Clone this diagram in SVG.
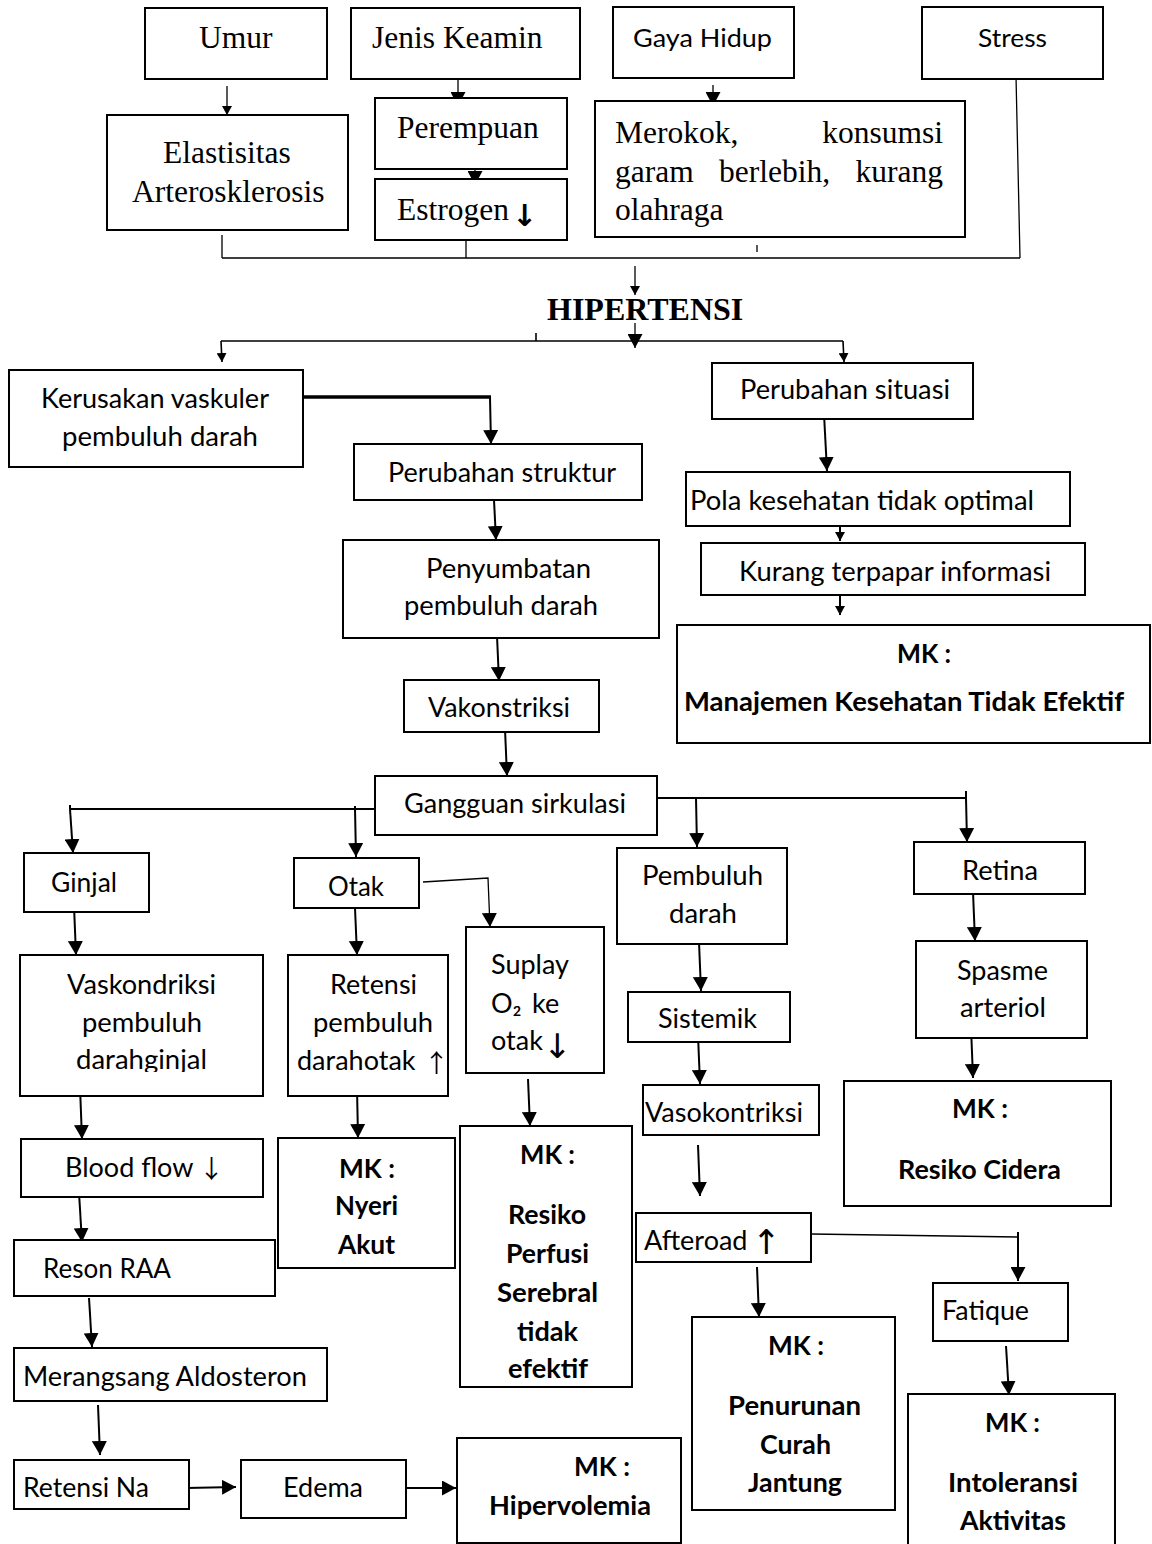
<svg xmlns="http://www.w3.org/2000/svg" width="1152" height="1544" viewBox="0 0 1152 1544">
<style>
.box{fill:#fff;stroke:#000;stroke-width:2}
.tr{font-family:"Liberation Serif","Times New Roman",serif;font-size:31.5px;fill:#000}
.ts{font-family:Lato,"Noto Sans","DejaVu Sans",sans-serif;font-size:27px;fill:#000}
.tb{font-weight:700}
.ar{font-family:"DejaVu Sans",sans-serif;fill:#000}
.al{font-family:"Noto Sans CJK SC","DejaVu Sans",sans-serif;fill:#000}
.c{fill:none;stroke:#000;stroke-width:2}
.t{stroke-width:1.3}
.k{stroke-width:3.5}
</style>
<defs>
<marker id="ab" viewBox="0 0 10 10" refX="10" refY="5" markerWidth="14" markerHeight="15" markerUnits="userSpaceOnUse" orient="auto" preserveAspectRatio="none"><path d="M0,0L10,5L0,10z" fill="#000"/></marker>
<marker id="as" viewBox="0 0 10 10" refX="10" refY="5" markerWidth="9" markerHeight="10" markerUnits="userSpaceOnUse" orient="auto" preserveAspectRatio="none"><path d="M0,0L10,5L0,10z" fill="#000"/></marker>
<clipPath id="clipVk"><rect x="20" y="955" width="243" height="117"/></clipPath>
</defs>
<rect width="1152" height="1544" fill="#fff"/>

<g id="connectors">
<line class="c t" x1="227" y1="86" x2="227" y2="115" marker-end="url(#as)"/>
<line class="c t" x1="458" y1="80" x2="458" y2="106" marker-end="url(#ab)"/>
<line class="c t" x1="475" y1="168" x2="475" y2="185" marker-end="url(#ab)"/>
<line class="c t" x1="713" y1="85" x2="713" y2="106" marker-end="url(#ab)"/>
<path class="c t" d="M222,235V258M466,241V258M757,245V252M1016,76L1020,258M222,258H1020"/>
<line class="c t" x1="635" y1="266" x2="635" y2="295" marker-end="url(#as)"/>
<line class="c t" x1="635" y1="323" x2="635" y2="348" marker-end="url(#ab)"/>
<path class="c" d="M221,341H843M536,333V341" style="stroke-width:1.6"/>
<line class="c" x1="221" y1="341" x2="222" y2="362" marker-end="url(#as)" style="stroke-width:1.6"/>
<line class="c" x1="843" y1="341" x2="844" y2="362" marker-end="url(#as)" style="stroke-width:1.6"/>
<line class="c k" x1="303" y1="397" x2="491" y2="397"/>
<line class="c" x1="490" y1="397" x2="491" y2="444" marker-end="url(#ab)"/>
<line class="c" x1="494" y1="500" x2="496" y2="540" marker-end="url(#ab)"/>
<line class="c" x1="824" y1="414" x2="827" y2="471" marker-end="url(#ab)"/>
<line class="c" x1="840" y1="526" x2="840" y2="541" marker-end="url(#as)"/>
<line class="c" x1="840" y1="596" x2="840" y2="615" marker-end="url(#as)"/>
<line class="c" x1="497" y1="636" x2="499" y2="681" marker-end="url(#ab)"/>
<line class="c" x1="505" y1="729" x2="507" y2="776" marker-end="url(#ab)"/>
<path class="c" d="M70,809H375M70,805V809M355,806V809M657,798H966M966,791V798"/>
<line class="c" x1="70" y1="809" x2="73" y2="853" marker-end="url(#ab)"/>
<line class="c" x1="355" y1="809" x2="356" y2="857" marker-end="url(#ab)"/>
<line class="c" x1="696" y1="798" x2="697" y2="847" marker-end="url(#ab)"/>
<line class="c" x1="966" y1="798" x2="967" y2="842" marker-end="url(#ab)"/>
<line class="c" x1="74" y1="906" x2="76" y2="955" marker-end="url(#ab)"/>
<line class="c" x1="355" y1="908" x2="357" y2="955" marker-end="url(#ab)"/>
<polyline class="c t" points="423,882 488,878 490,927" marker-end="url(#ab)"/>
<line class="c" x1="80" y1="1087" x2="82" y2="1139" marker-end="url(#ab)"/>
<line class="c" x1="357" y1="1088" x2="358" y2="1138" marker-end="url(#ab)"/>
<line class="c" x1="528" y1="1079" x2="530" y2="1126" marker-end="url(#ab)"/>
<line class="c" x1="699" y1="942" x2="701" y2="991" marker-end="url(#ab)"/>
<line class="c" x1="698" y1="1035" x2="700" y2="1084" marker-end="url(#ab)"/>
<line class="c" x1="973" y1="892" x2="975" y2="941" marker-end="url(#ab)"/>
<line class="c" x1="971" y1="1027" x2="973" y2="1078" marker-end="url(#ab)"/>
<line class="c" x1="79" y1="1193" x2="82" y2="1242" marker-end="url(#ab)"/>
<line class="c" x1="89" y1="1298" x2="92" y2="1347" marker-end="url(#ab)"/>
<line class="c" x1="98" y1="1405" x2="100" y2="1455" marker-end="url(#ab)"/>
<line class="c" x1="186" y1="1488" x2="236" y2="1487" marker-end="url(#ab)"/>
<line class="c" x1="406" y1="1488" x2="456" y2="1488" marker-end="url(#ab)"/>
<line class="c" x1="698" y1="1145" x2="700" y2="1196" marker-end="url(#ab)"/>
<line class="c" x1="757" y1="1267" x2="759" y2="1317" marker-end="url(#ab)"/>
<path class="c t" d="M811,1234L1018,1237"/>
<line class="c" x1="1018" y1="1232" x2="1018" y2="1281" marker-end="url(#ab)"/>
<line class="c" x1="1006" y1="1346" x2="1009" y2="1395" marker-end="url(#ab)"/>
</g>

<g id="n-umur"><rect class="box" x="145" y="8" width="182" height="71"/><text class="tr" x="199" y="48">Umur</text></g>
<g id="n-jenis"><rect class="box" x="351" y="8" width="229" height="71"/><text class="tr" x="372" y="48">Jenis Keamin</text></g>
<g id="n-gaya"><rect class="box" x="613" y="7" width="181" height="71"/><text class="ts" x="633" y="47" textLength="139" lengthAdjust="spacingAndGlyphs" style="font-size:25px">Gaya Hidup</text></g>
<g id="n-stress"><rect class="box" x="922" y="7" width="181" height="72"/><text class="ts" x="978" y="47" textLength="69" lengthAdjust="spacingAndGlyphs" style="font-size:25px">Stress</text></g>
<g id="n-elastisitas"><rect class="box" x="107" y="115" width="241" height="115"/><text class="tr" x="163" y="163">Elastisitas</text><text class="tr" x="132" y="202">Arterosklerosis</text></g>
<g id="n-perempuan"><rect class="box" x="375" y="98" width="192" height="71"/><text class="tr" x="397" y="138">Perempuan</text></g>
<g id="n-estrogen"><rect class="box" x="375" y="179" width="192" height="61"/><text class="tr" y="220"><tspan x="397">Estrogen</tspan><tspan class="ar" x="512" y="226" style="font-size:30px;font-weight:700">↓</tspan></text></g>
<g id="n-merokok"><rect class="box" x="595" y="101" width="370" height="136"/>
<text class="tr" x="615" y="143">Merokok,</text><text class="tr" x="943" y="143" text-anchor="end">konsumsi</text>
<text class="tr" x="615" y="182">garam</text><text class="tr" x="719" y="182">berlebih,</text><text class="tr" x="943" y="182" text-anchor="end">kurang</text>
<text class="tr" x="615" y="220">olahraga</text></g>

<g id="n-hipertensi"><text class="tr" x="547" y="320" style="font-weight:700;font-size:32px">HIPERTENSI</text></g>

<g id="n-kerusakan"><rect class="box" x="9" y="370" width="294" height="97"/><text class="ts" x="41" y="408" textLength="228" lengthAdjust="spacingAndGlyphs">Kerusakan vaskuler</text><text class="ts" x="62" y="446" textLength="196" lengthAdjust="spacingAndGlyphs">pembuluh darah</text></g>
<g id="n-perubahan-struktur"><rect class="box" x="354" y="444" width="288" height="56"/><text class="ts" x="388" y="482" textLength="228" lengthAdjust="spacingAndGlyphs">Perubahan struktur</text></g>
<g id="n-perubahan-situasi"><rect class="box" x="712" y="363" width="261" height="56"/><text class="ts" x="740" y="399" textLength="210" lengthAdjust="spacingAndGlyphs">Perubahan situasi</text></g>
<g id="n-pola"><rect class="box" x="686" y="472" width="384" height="54"/><text class="ts" x="690" y="510" textLength="344" lengthAdjust="spacingAndGlyphs">Pola kesehatan tidak optimal</text></g>
<g id="n-kurang"><rect class="box" x="701" y="543" width="384" height="52"/><text class="ts" x="739" y="581" textLength="312" lengthAdjust="spacingAndGlyphs">Kurang terpapar informasi</text></g>
<g id="n-mk-manajemen"><rect class="box" x="677" y="625" width="473" height="118"/><text class="ts tb" x="897" y="663" textLength="54" lengthAdjust="spacingAndGlyphs">MK :</text><text class="ts tb" x="684" y="711" textLength="440" lengthAdjust="spacingAndGlyphs">Manajemen Kesehatan Tidak Efektif</text></g>
<g id="n-penyumbatan"><rect class="box" x="343" y="540" width="316" height="98"/><text class="ts" x="426" y="578" textLength="165" lengthAdjust="spacingAndGlyphs">Penyumbatan</text><text class="ts" x="404" y="615" textLength="194" lengthAdjust="spacingAndGlyphs">pembuluh darah</text></g>
<g id="n-vakonstriksi"><rect class="box" x="404" y="680" width="195" height="52"/><text class="ts" x="428" y="717" textLength="142" lengthAdjust="spacingAndGlyphs">Vakonstriksi</text></g>
<g id="n-gangguan"><rect class="box" x="375" y="776" width="282" height="59"/><text class="ts" x="404" y="813" textLength="222" lengthAdjust="spacingAndGlyphs">Gangguan sirkulasi</text></g>

<g id="n-ginjal"><rect class="box" x="24" y="853" width="125" height="59"/><text class="ts" x="51" y="892" textLength="66" lengthAdjust="spacingAndGlyphs">Ginjal</text></g>
<g id="n-otak"><rect class="box" x="294" y="858" width="125" height="50"/><text class="ts" x="328" y="896" textLength="56" lengthAdjust="spacingAndGlyphs">Otak</text></g>
<g id="n-vaskondriksi"><rect class="box" x="20" y="955" width="243" height="141"/><text class="ts" x="67" y="994" textLength="149" lengthAdjust="spacingAndGlyphs">Vaskondriksi</text><text class="ts" x="82" y="1032" textLength="120" lengthAdjust="spacingAndGlyphs">pembuluh</text><text class="ts" x="76" y="1069" textLength="131" lengthAdjust="spacingAndGlyphs" clip-path="url(#clipVk)">darahginjal</text></g>
<g id="n-retensi"><rect class="box" x="288" y="955" width="160" height="141"/><text class="ts" x="330" y="994" textLength="87" lengthAdjust="spacingAndGlyphs">Retensi</text><text class="ts" x="313" y="1032" textLength="120" lengthAdjust="spacingAndGlyphs">pembuluh</text><text class="ts" y="1070"><tspan x="297">darahotak</tspan><tspan class="al" x="424" y="1072" style="font-size:25px">↑</tspan></text></g>
<g id="n-suplay"><rect class="box" x="466" y="927" width="138" height="146"/><text class="ts" x="491" y="974">Suplay</text><text class="ts" y="1013"><tspan x="491">O₂</tspan><tspan x="532">ke</tspan></text><text class="ts" y="1050"><tspan x="491">otak</tspan><tspan class="ar" x="543" y="1058" style="font-size:34px">↓</tspan></text></g>
<g id="n-pembuluh"><rect class="box" x="617" y="848" width="170" height="96"/><text class="ts" x="642" y="885" textLength="121" lengthAdjust="spacingAndGlyphs">Pembuluh</text><text class="ts" x="669" y="923" textLength="68" lengthAdjust="spacingAndGlyphs">darah</text></g>
<g id="n-sistemik"><rect class="box" x="628" y="992" width="162" height="50"/><text class="ts" x="658" y="1028" textLength="99" lengthAdjust="spacingAndGlyphs">Sistemik</text></g>
<g id="n-vasokontriksi"><rect class="box" x="643" y="1085" width="176" height="50"/><text class="ts" x="645" y="1122" textLength="158" lengthAdjust="spacingAndGlyphs">Vasokontriksi</text></g>
<g id="n-retina"><rect class="box" x="914" y="842" width="171" height="52"/><text class="ts" x="962" y="880" textLength="76" lengthAdjust="spacingAndGlyphs">Retina</text></g>
<g id="n-spasme"><rect class="box" x="916" y="941" width="171" height="97"/><text class="ts" x="957" y="980" textLength="91" lengthAdjust="spacingAndGlyphs">Spasme</text><text class="ts" x="960" y="1017" textLength="86" lengthAdjust="spacingAndGlyphs">arteriol</text></g>
<g id="n-mk-cidera"><rect class="box" x="844" y="1081" width="267" height="125"/><text class="ts tb" x="952" y="1118" textLength="56" lengthAdjust="spacingAndGlyphs">MK :</text><text class="ts tb" x="898" y="1179" textLength="163" lengthAdjust="spacingAndGlyphs">Resiko Cidera</text></g>

<g id="n-blood"><rect class="box" x="21" y="1139" width="242" height="58"/><text class="ts" y="1177"><tspan x="65">Blood flow</tspan><tspan class="al" x="199" y="1178" style="font-size:25px">↓</tspan></text></g>
<g id="n-mk-nyeri"><rect class="box" x="278" y="1138" width="177" height="130"/><text class="ts tb" x="339" y="1178" textLength="56" lengthAdjust="spacingAndGlyphs">MK :</text><text class="ts tb" x="335" y="1215" textLength="63" lengthAdjust="spacingAndGlyphs">Nyeri</text><text class="ts tb" x="338" y="1254" textLength="57" lengthAdjust="spacingAndGlyphs">Akut</text></g>
<g id="n-mk-perfusi"><rect class="box" x="460" y="1126" width="172" height="261"/><text class="ts tb" x="520" y="1164" textLength="55" lengthAdjust="spacingAndGlyphs">MK :</text><text class="ts tb" x="508" y="1224" textLength="78" lengthAdjust="spacingAndGlyphs">Resiko</text><text class="ts tb" x="506" y="1263" textLength="83" lengthAdjust="spacingAndGlyphs">Perfusi</text><text class="ts tb" x="497" y="1302" textLength="101" lengthAdjust="spacingAndGlyphs">Serebral</text><text class="ts tb" x="517" y="1341" textLength="61" lengthAdjust="spacingAndGlyphs">tidak</text><text class="ts tb" x="508" y="1378" textLength="80" lengthAdjust="spacingAndGlyphs">efektif</text></g>
<g id="n-reson"><rect class="box" x="14" y="1240" width="261" height="56"/><text class="ts" x="43" y="1278" textLength="128" lengthAdjust="spacingAndGlyphs">Reson RAA</text></g>
<g id="n-merangsang"><rect class="box" x="14" y="1348" width="313" height="53"/><text class="ts" x="23" y="1386" textLength="284" lengthAdjust="spacingAndGlyphs">Merangsang Aldosteron</text></g>
<g id="n-retensi-na"><rect class="box" x="14" y="1460" width="175" height="49"/><text class="ts" x="23" y="1497" textLength="126" lengthAdjust="spacingAndGlyphs">Retensi Na</text></g>
<g id="n-edema"><rect class="box" x="241" y="1460" width="165" height="58"/><text class="ts" x="283" y="1497" textLength="80" lengthAdjust="spacingAndGlyphs">Edema</text></g>
<g id="n-mk-hipervolemia"><rect class="box" x="457" y="1438" width="224" height="105"/><text class="ts tb" x="574" y="1476" textLength="56" lengthAdjust="spacingAndGlyphs">MK :</text><text class="ts tb" x="489" y="1515" textLength="162" lengthAdjust="spacingAndGlyphs">Hipervolemia</text></g>
<g id="n-afteroad"><rect class="box" x="636" y="1213" width="175" height="49"/><text class="ts" y="1250"><tspan x="644">Afteroad</tspan><tspan class="ar" x="752" y="1254" style="font-size:34px">↑</tspan></text></g>
<g id="n-fatique"><rect class="box" x="933" y="1283" width="135" height="58"/><text class="ts" x="942" y="1320" textLength="87" lengthAdjust="spacingAndGlyphs">Fatique</text></g>
<g id="n-mk-penurunan"><rect class="box" x="692" y="1317" width="203" height="193"/><text class="ts tb" x="768" y="1355" textLength="56" lengthAdjust="spacingAndGlyphs">MK :</text><text class="ts tb" x="728" y="1415" textLength="133" lengthAdjust="spacingAndGlyphs">Penurunan</text><text class="ts tb" x="760" y="1454" textLength="71" lengthAdjust="spacingAndGlyphs">Curah</text><text class="ts tb" x="748" y="1492" textLength="94" lengthAdjust="spacingAndGlyphs">Jantung</text></g>
<g id="n-mk-intoleransi"><rect class="box" x="908" y="1394" width="207" height="170"/><text class="ts tb" x="985" y="1432" textLength="55" lengthAdjust="spacingAndGlyphs">MK :</text><text class="ts tb" x="948" y="1492" textLength="130" lengthAdjust="spacingAndGlyphs">Intoleransi</text><text class="ts tb" x="960" y="1530" textLength="106" lengthAdjust="spacingAndGlyphs">Aktivitas</text></g>
</svg>
